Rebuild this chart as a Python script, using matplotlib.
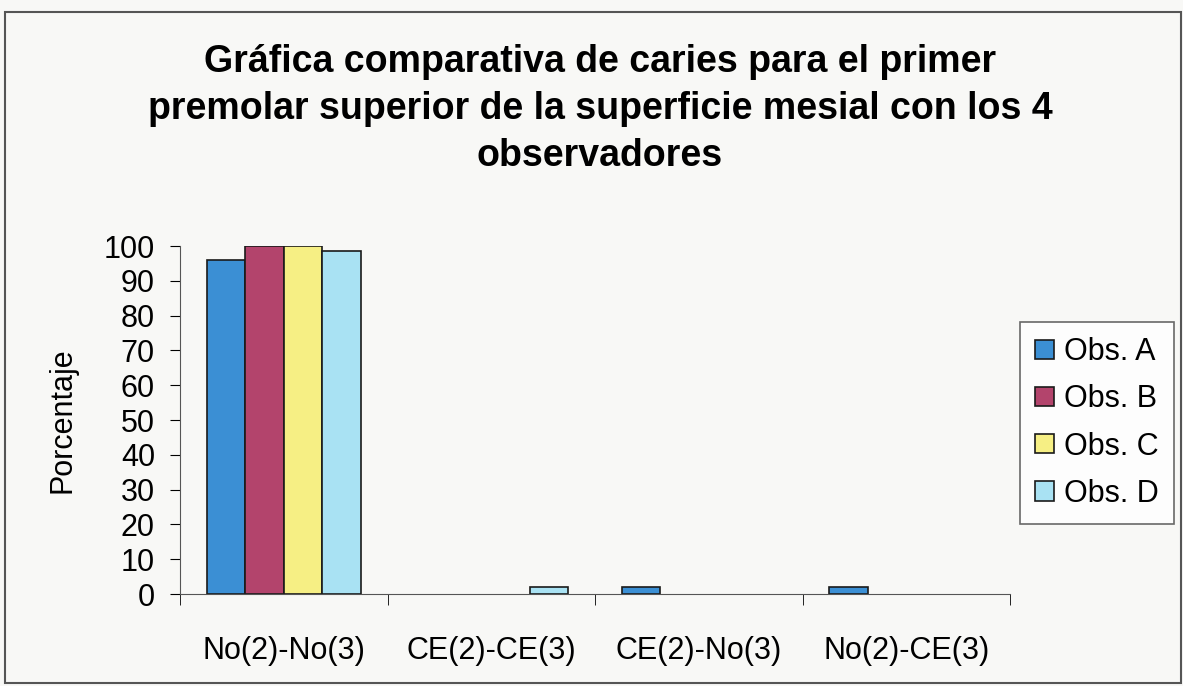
import numpy as np
import matplotlib
matplotlib.use('Agg')
import matplotlib.pyplot as plt
from matplotlib.patches import Rectangle

categories = ['No(2)-No(3)', 'CE(2)-CE(3)', 'CE(2)-No(3)', 'No(2)-CE(3)']
series_names = ['Obs. A', 'Obs. B', 'Obs. C', 'Obs. D']
obs_a = [96, 0, 2, 2]
obs_b = [100, 0, 0, 0]
obs_c = [100, 0, 0, 0]
obs_d = [98.5, 2, 0, 0]
colors = ['#3b8fd4', '#b3446c', '#f6ef84', '#a9e2f3']

title = ('Gráfica comparativa de caries para el primer\n'
         'premolar superior de la superficie mesial con los 4\n'
         'observadores')

plt.rcParams['font.family'] = ['Liberation Sans', 'DejaVu Sans']

fig = plt.figure(figsize=(11.83, 6.86), dpi=100)
fig.patch.set_facecolor('#f8f8f6')
fig.patches.append(Rectangle((0.004, 0.004), 0.994, 0.978, transform=fig.transFigure,
                             fill=False, edgecolor='#555555', linewidth=1.5))

ax = fig.add_axes([180 / 1183, 1 - 594 / 686, (1010 - 180) / 1183, (594 - 246) / 686])
ax.set_facecolor('none')

x = np.arange(len(categories))
width = 0.185
data = [obs_a, obs_b, obs_c, obs_d]
for i, (name, vals) in enumerate(zip(series_names, data)):
    edges = ['#1a1a1a' if v > 0 else 'none' for v in vals]
    ax.bar(x + (i - 1.5) * width, vals, width, color=colors[i], edgecolor=edges,
           linewidth=1.2, label=name)

ax.set_xlim(-0.5, len(categories) - 0.5)
ax.set_ylim(0, 100)
ax.set_yticks(range(0, 101, 10))
ax.set_xticks(np.arange(-0.5, len(categories), 1.0), minor=True)
ax.set_xticks(x)
ax.set_xticklabels(categories, fontsize=22)
ax.tick_params(axis='x', which='major', length=0, pad=30)
ax.tick_params(axis='x', which='minor', length=8, direction='out')
ax.tick_params(axis='y', labelsize=22, length=7, direction='out', pad=11)
for s in ['top', 'right']:
    ax.spines[s].set_visible(False)
ax.spines['left'].set_color('#555555')
ax.spines['bottom'].set_color('#555555')
ax.set_ylabel('Porcentaje', fontsize=22, labelpad=19)

fig.text(600 / 1183, 1 - 109 / 686, title, ha='center', va='center',
         fontsize=27, fontweight='bold', linespacing=1.39)

leg = ax.legend(loc='upper left', bbox_to_anchor=(1020 / 1183, 1 - 322 / 686),
                bbox_transform=fig.transFigure, fontsize=22, frameon=True,
                fancybox=False, edgecolor='#444444', handlelength=0.6,
                handleheight=0.6, handletextpad=0.35, labelspacing=0.56,
                borderpad=0.5, borderaxespad=0)
leg.get_frame().set_linewidth(1.2)

fig.savefig('out.png', dpi=100, facecolor=fig.get_facecolor())
